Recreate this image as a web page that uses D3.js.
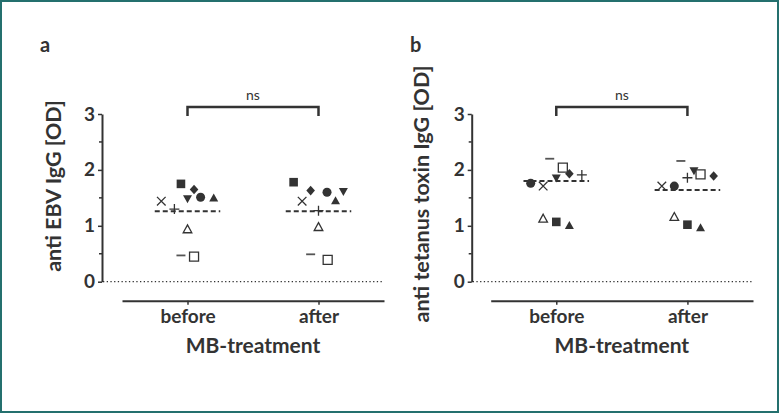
<!DOCTYPE html>
<html>
<head>
<meta charset="utf-8">
<title>anti EBV / anti tetanus IgG</title>
<script src="https://cdn.jsdelivr.net/npm/d3@7"></script>
<style>
  body { margin: 0; background: #fff; }
  svg text { font-family: Lato, "Open Sans", sans-serif; fill: #333; }
</style>
</head>
<body>
<script>
// categories and markers (one marker per donor)
var groups = ["before", "after"];
var markers = ["square", "diamond", "dtri", "circle", "tri", "x", "plus", "otri", "minus", "osquare"];
var yTicks = [0, 1, 2, 3];

// panel a: anti EBV IgG [OD]
var ebvBefore = [1.75, 1.65, 1.48, 1.51, 1.50, 1.44, 1.30, 0.94, 0.47, 0.45];
var ebvAfter  = [1.78, 1.63, 1.61, 1.60, 1.45, 1.44, 1.27, 0.98, 0.49, 0.39];
var ebvJitterBefore = [-0.05, 0.05, 0, 0.1, 0.2, -0.2, -0.1, 0, -0.05, 0.05];
var ebvJitterAfter  = [-0.19, -0.06, 0.19, 0.065, 0.13, -0.125, 0, 0, -0.06, 0.07];
var ebvCenter = [1.26, 1.26];

// panel b: anti tetanus toxin IgG [OD]
var tetBefore = [1.07, 1.93, 1.85, 1.76, 1.01, 1.71, 1.91, 1.13, 2.20, 2.04];
var tetAfter  = [1.02, 1.89, 1.98, 1.71, 0.97, 1.71, 1.86, 1.16, 2.16, 1.92];
var tetJitterBefore = [0, 0.1, 0, -0.195, 0.1, -0.1, 0.195, -0.1, -0.05, 0.05];
var tetJitterAfter  = [0, 0.2, 0.05, -0.1, 0.1, -0.195, 0, -0.1, -0.05, 0.1];
var tetCenter = [1.80, 1.64];

var W = 779, H = 414, ink = "#333";

var svg = d3.select("body").append("svg")
    .attr("width", W).attr("height", H);

svg.append("rect")
    .attr("x", 1).attr("y", 1).attr("width", W - 2).attr("height", H - 3)
    .attr("fill", "#fff").attr("stroke", "#24706e").attr("stroke-width", 2);

// marker shapes
function markerPath(m) {
  switch (m) {
    case "square":  return "M-4.3,-4.3H4.3V4.3H-4.3Z";
    case "osquare": return "M-4.5,-4.5H4.5V4.5H-4.5Z";
    case "diamond": return "M0,-4.8L4.3,0L0,4.8L-4.3,0Z";
    case "circle":  return d3.symbol(d3.symbolCircle, 64)();
    case "tri":     return "M0,-4.3L4.5,3.7H-4.5Z";
    case "otri":    return "M0,-4.3L4.3,3.6H-4.3Z";
    case "dtri":    return "M-4.5,-3.7H4.5L0,4.3Z";
    case "x":       return "M-4.3,-4.3L4.3,4.3M4.3,-4.3L-4.3,4.3";
    case "plus":    return "M-5,0H5M0,-5V5";
    case "minus":   return "M-4.5,0H4.5";
  }
}
var filled = {square: 1, diamond: 1, circle: 1, tri: 1, dtri: 1};

function panel(opt) {
  var g = svg.append("g");
  var x = d3.scaleLinear().domain([0.5, 2.5]).range([opt.x0, opt.x1]);
  var y = d3.scaleLinear().domain([0, 3]).range([281.7, 114]);

  // panel letter
  g.append("text").attr("x", opt.letterX).attr("y", 52)
      .attr("font-size", 20).attr("font-weight", 700).text(opt.letter);

  // y axis
  var ya = g.append("g")
      .attr("transform", "translate(" + opt.axisX + ",0)")
      .call(d3.axisLeft(y).tickValues(yTicks).tickFormat(d3.format("d"))
            .tickSize(4).tickSizeOuter(0).tickPadding(3));
  ya.select(".domain").attr("stroke", ink).attr("stroke-width", 2);
  ya.selectAll(".tick line").attr("stroke", ink).attr("stroke-width", 1.5);
  ya.selectAll(".tick text").attr("fill", ink).attr("font-size", 19)
      .attr("font-weight", 700).attr("font-family", "Lato, sans-serif");
  ya.selectAll(".minor").data([0.5, 1.5, 2.5]).enter().append("line")
      .attr("class", "minor")
      .attr("x1", -3).attr("x2", 0)
      .attr("y1", d => y(d)).attr("y2", d => y(d))
      .attr("stroke", ink).attr("stroke-width", 1.5);

  g.append("text")
      .attr("transform", "translate(" + opt.titleX + "," + opt.titleY + ") rotate(-90)")
      .attr("text-anchor", "middle").attr("font-size", 21.5).attr("font-weight", 700)
      .text(opt.title);

  // dotted zero line
  g.append("line")
      .attr("x1", opt.axisX + 1).attr("x2", opt.x1)
      .attr("y1", y(0)).attr("y2", y(0))
      .attr("stroke", ink).attr("stroke-width", 1.3)
      .attr("stroke-dasharray", "1.3,2.4");

  // category axis
  var xa = g.append("g")
      .attr("transform", "translate(0,300.7)")
      .call(d3.axisBottom(x).tickValues([1, 2]).tickFormat(d => groups[d - 1])
            .tickSize(4).tickSizeOuter(0).tickPadding(5));
  xa.select(".domain").attr("stroke", ink).attr("stroke-width", 2);
  xa.selectAll(".tick line").attr("stroke", ink).attr("stroke-width", 1.5);
  xa.selectAll(".tick text").attr("fill", ink).attr("font-size", 19)
      .attr("font-weight", 700).attr("font-family", "Lato, sans-serif");

  g.append("text")
      .attr("x", (opt.x0 + opt.x1) / 2).attr("y", 353)
      .attr("text-anchor", "middle").attr("font-size", 21).attr("font-weight", 700)
      .text("MB-treatment");

  // significance bracket
  var by = 107;
  g.append("path")
      .attr("d", "M" + x(1) + "," + (by + 9) + "V" + by + "H" + x(2) + "V" + (by + 9))
      .attr("fill", "none").attr("stroke", ink).attr("stroke-width", 2.5);
  g.append("text")
      .attr("x", (x(1) + x(2)) / 2).attr("y", by - 7)
      .attr("text-anchor", "middle").attr("font-size", 14).text("ns");

  // center lines
  g.selectAll(".center").data(opt.center).enter().append("line")
      .attr("x1", (d, i) => x(i + 1 - 0.25)).attr("x2", (d, i) => x(i + 1 + 0.25))
      .attr("y1", d => y(d)).attr("y2", d => y(d))
      .attr("stroke", ink).attr("stroke-width", 2)
      .attr("stroke-dasharray", "5,3");

  // points
  var pts = [];
  opt.series.forEach(function (vals, gi) {
    vals.forEach(function (v, k) {
      pts.push({m: markers[k], v: v, x: gi + 1 + opt.jitter[gi][k]});
    });
  });
  g.selectAll(".pt").data(pts).enter().append("path")
      .attr("class", "pt")
      .attr("transform", d => "translate(" + x(d.x) + "," + y(d.v) + ")")
      .attr("d", d => markerPath(d.m))
      .attr("fill", d => filled[d.m] ? ink : (d.m === "osquare" || d.m === "otri" ? "#fff" : "none"))
      .attr("stroke", d => filled[d.m] ? "none" : (d.m === "minus" ? "#555" : ink))
      .attr("stroke-width", d => d.m === "minus" ? 1.8 : 1.3);
}

panel({
  letter: "a", letterX: 40, axisX: 102, x0: 122, x1: 384,
  title: "anti EBV IgG [OD]", titleX: 61, titleY: 186,
  series: [ebvBefore, ebvAfter], jitter: [ebvJitterBefore, ebvJitterAfter], center: ebvCenter
});

panel({
  letter: "b", letterX: 410, axisX: 471.7, x0: 490.7, x1: 753,
  title: "anti tetanus toxin IgG [OD]", titleX: 429, titleY: 194,
  series: [tetBefore, tetAfter], jitter: [tetJitterBefore, tetJitterAfter], center: tetCenter
});
</script>
</body>
</html>
